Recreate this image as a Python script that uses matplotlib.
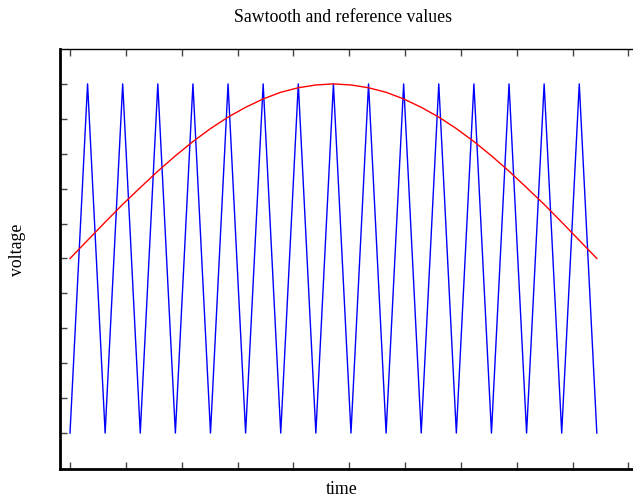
import matplotlib
matplotlib.use("Agg")
import matplotlib.pyplot as plt

# Time in carrier periods
carrier_t = [i * 0.5 for i in range(31)]
carrier_v = [0.0 if i % 2 == 0 else 1.0 for i in range(31)]

ref_t = [i * 0.5 for i in range(31)]
ref_v = [0.500, 0.552, 0.604, 0.655, 0.703, 0.750, 0.794, 0.835, 0.872, 0.905,
         0.933, 0.957, 0.976, 0.989, 0.997, 1.000, 0.997, 0.989, 0.976, 0.957,
         0.933, 0.905, 0.872, 0.835, 0.794, 0.750, 0.703, 0.655, 0.604, 0.552,
         0.500]

x_ticks = [i * 1.59 for i in range(11)]
y_ticks = [i * 0.1 for i in range(11)]

plt.rcParams['font.family'] = ['Liberation Serif', 'DejaVu Serif']

fig = plt.figure(figsize=(6.33, 4.97), dpi=100)
ax = fig.add_axes([60/633, 28/497, 1 - 60/633, (469-49)/497])

ax.plot(carrier_t, carrier_v, color='#0000ff', lw=1.0)
ax.plot(ref_t, ref_v, color='#ff0000', lw=1.0)

ax.set_xlim(-0.285, 16.03)
ax.set_ylim(-0.103, 1.1)
ax.set_xticks(x_ticks)
ax.set_yticks(y_ticks)
ax.set_xticklabels([])
ax.set_yticklabels([])
ax.tick_params(direction='in', length=5, width=1, color='#444444',
               top=True, bottom=True, left=True, right=False)

ax.spines['left'].set_linewidth(2)
ax.spines['bottom'].set_linewidth(2)
ax.spines['top'].set_linewidth(1)
ax.spines['right'].set_visible(False)

fig.text(343/633, 1 - 18/497, 'Sawtooth and reference values', ha='center', va='center', fontsize=12.8)
fig.text(342/633, 1 - 489/497, 'time', ha='center', va='center', fontsize=12.8)
fig.text(18/633, 1 - 250/497, 'voltage', ha='center', va='center', rotation=90, fontsize=12.8)

fig.savefig('out.png', dpi=100)
